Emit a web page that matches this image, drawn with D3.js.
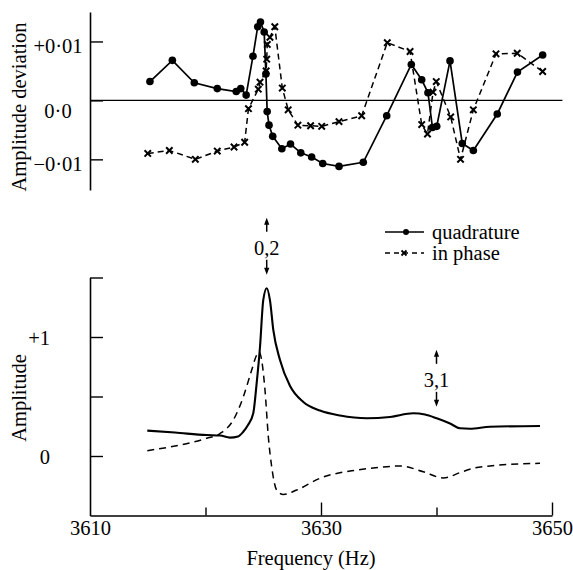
<!DOCTYPE html>
<html><head><meta charset="utf-8">
<script src="https://cdn.jsdelivr.net/npm/d3@7"></script>
<style>
body{margin:0;background:#fff;}
svg text{font-family:"Liberation Serif","Times New Roman",Tinos,"DejaVu Serif","Noto Serif",Times,serif !important;fill:#000;}
</style></head>
<body><svg id="c" width="573" height="570"></svg>
<script>
// ---- data ----
const qFreq = [3615.19,3617.13,3619.03,3621.02,3622.66,3623.05,3623.52,3624.11,3624.52,3624.76,3625.08,3625.23,3625.34,3625.50,3625.82,3626.61,3627.36,3628.25,3629.19,3630.15,3631.56,3633.66,3635.69,3637.82,3638.72,3639.26,3639.65,3640.02,3641.17,3642.23,3643.19,3645.26,3647.01,3649.19];
const qDev  = [0.0032,0.0068,0.0030,0.0020,0.0015,0.0020,0.0009,0.0075,0.0125,0.0133,0.0116,0.0045,-0.0019,-0.0042,-0.0061,-0.0082,-0.0074,-0.0089,-0.0096,-0.0107,-0.0112,-0.0105,-0.0026,0.0061,0.0035,0.0013,-0.0046,-0.0044,0.0067,-0.0073,-0.0085,-0.0023,0.0048,0.0077];
const iFreq = [3615.00,3616.87,3619.12,3621.02,3622.47,3623.39,3623.72,3624.57,3624.72,3625.25,3625.30,3625.35,3625.58,3626.00,3626.65,3627.16,3628.00,3629.10,3630.06,3631.56,3633.52,3635.74,3637.71,3638.72,3639.22,3639.70,3639.98,3641.23,3642.08,3643.19,3645.15,3646.99,3649.19];
const iDev  = [-0.0090,-0.0085,-0.0100,-0.0086,-0.0079,-0.0071,-0.0014,0.0019,0.0031,0.0050,0.0070,0.0095,0.0107,0.0125,0.0021,-0.0016,-0.0042,-0.0043,-0.0044,-0.0036,-0.0026,0.0098,0.0083,-0.0041,-0.0057,0.0014,0.0032,-0.0028,-0.0100,-0.0016,0.0079,0.0080,0.0049];

const sFreq = [3614.96,3617.36,3620.10,3621.26,3622.12,3622.81,3623.27,3623.68,3624.14,3624.43,3624.72,3625.00,3625.30,3625.58,3625.87,3626.45,3627.32,3628.47,3629.91,3631.65,3633.96,3635.97,3637.99,3639.00,3640.02,3641.17,3642.03,3642.90,3644.63,3648.96];
const sAmp  = [0.213,0.197,0.176,0.172,0.154,0.164,0.204,0.26,0.361,0.613,0.918,1.31,1.41,1.31,1.06,0.807,0.588,0.454,0.382,0.340,0.317,0.328,0.359,0.349,0.317,0.273,0.233,0.229,0.246,0.252];
const dFreq = [3614.96,3617.36,3620.10,3621.26,3622.41,3623.27,3624.00,3624.43,3624.63,3624.86,3625.15,3625.44,3625.73,3626.16,3626.74,3627.90,3629.91,3633.09,3635.11,3636.84,3638.86,3640.59,3642.03,3643.19,3644.63,3648.96];
const dAmp  = [0.045,0.084,0.149,0.189,0.303,0.496,0.723,0.849,0.876,0.807,0.555,0.162,-0.090,-0.286,-0.324,-0.286,-0.187,-0.118,-0.095,-0.084,-0.132,-0.185,-0.140,-0.103,-0.084,-0.061];

const xTicks = [3610,3620,3630,3640,3650];
const xTickLabels = ["3610","","3630","","3650"];
const topTicks = [-0.01,0,0.01];
const topTickLabels = ["\u22120\u00b701","0\u00b70","+0\u00b701"];
const botTicks = [0,0.5,1,1.5];
const botTickLabels = ["0","","+1",""];
const annFreq = [3625.3,3640.0];
const annLabels = ["0,2","3,1"];
const annLevel = [1.75,0.64];
const legendLabels = ["quadrature","in phase"];

// ---- layout ----
const svg = d3.select("#c");
const x = d3.scaleLinear().domain([3610,3650]).range([90,552]);
const yT = d3.scaleLinear().domain([-0.0152,0.0150]).range([190,12]);
const yB = d3.scaleLinear().domain([-0.5,1.5]).range([515.5,277.5]);
const FS = 20.5;

// top axis
const gT = svg.append("g").attr("transform","translate(90,0)")
  .call(d3.axisLeft(yT).tickValues(topTicks).tickSizeInner(-13).tickSizeOuter(0)
    .tickFormat((d,i)=>topTickLabels[i]));
gT.attr("font-family",null).attr("font-size",null);
gT.select(".domain").attr("stroke-width",1.6);
gT.selectAll(".tick line").attr("stroke-width",1.4);
gT.selectAll(".tick text").attr("x",-32).attr("text-anchor","middle")
  .attr("dy",(d)=> d===0 ? "0.85em" : "0.55em")
  .style("font-size",FS+"px");

// zero line
svg.append("line").attr("x1",x(3610)).attr("x2",x(3650.9)).attr("y1",yT(0)).attr("y2",yT(0))
  .attr("stroke","#000").attr("stroke-width",1.3);

// top series
const lineT = d3.line().x(d=>x(d[0])).y(d=>yT(d[1]));
const qData = qFreq.map((f,i)=>[f,qDev[i]]);
const iData = iFreq.map((f,i)=>[f,iDev[i]]);
svg.append("path").datum(iData).attr("d",lineT).attr("fill","none").attr("stroke","#000")
  .attr("stroke-width",1.5).attr("stroke-dasharray","6,4");
svg.append("path").datum(qData).attr("d",lineT).attr("fill","none").attr("stroke","#000")
  .attr("stroke-width",1.7);
svg.selectAll(".qd").data(qData).join("circle").attr("cx",d=>x(d[0])).attr("cy",d=>yT(d[1]))
  .attr("r",3.8).attr("fill","#000");
function cross(g,cx,cy,s,w){
  g.append("path").attr("d",`M${cx-s},${cy-s}L${cx+s},${cy+s}M${cx-s},${cy+s}L${cx+s},${cy-s}`)
   .attr("stroke","#000").attr("stroke-width",w).attr("fill","none");
}
const gx = svg.append("g");
iData.forEach(d=>cross(gx,x(d[0]),yT(d[1]),3.2,2));

// y title top
svg.append("text").attr("transform",`translate(26,${(12+190)/2+6}) rotate(-90)`)
  .attr("text-anchor","middle").style("font-size",FS+"px").text("Amplitude deviation");

// bottom axes
const gB = svg.append("g").attr("transform","translate(90,0)")
  .call(d3.axisLeft(yB).tickValues(botTicks).tickSizeInner(-13).tickSizeOuter(0)
    .tickFormat((d,i)=>botTickLabels[i]));
gB.attr("font-family",null).attr("font-size",null);
gB.select(".domain").attr("stroke-width",1.6);
gB.selectAll(".tick line").attr("stroke-width",1.4);
gB.selectAll(".tick text").attr("x",-40).attr("text-anchor","end").attr("dy","0.38em")
  .style("font-size",FS+"px");

const gX = svg.append("g").attr("transform",`translate(0,${yB(-0.5)})`)
  .call(d3.axisBottom(x).tickValues(xTicks).tickSizeInner(-12).tickSizeOuter(0).tickPadding(20)
    .tickFormat((d,i)=>xTickLabels[i]));
gX.attr("font-family",null).attr("font-size",null);
gX.select(".domain").attr("stroke-width",1.6);
gX.selectAll(".tick line").attr("stroke-width",1.4)
  .attr("y2",(d)=> (d===3620||d===3640) ? -8 : (d===3610 ? 0 : -13));
gX.selectAll(".tick text").style("font-size",FS+"px")
  .attr("y",5).attr("dy","0.71em");

svg.append("text").attr("x",311).attr("y",565).attr("text-anchor","middle")
  .style("font-size",FS+"px").text("Frequency (Hz)");
svg.append("text").attr("transform",`translate(26,398) rotate(-90)`)
  .attr("text-anchor","middle").style("font-size",FS+"px").text("Amplitude");

// bottom curves
const lineB = d3.line().x(d=>x(d[0])).y(d=>yB(d[1])).curve(d3.curveMonotoneX);
svg.append("path").datum(dFreq.map((f,i)=>[f,dAmp[i]])).attr("d",lineB).attr("fill","none")
  .attr("stroke","#000").attr("stroke-width",1.5).attr("stroke-dasharray","7,5");
svg.append("path").datum(sFreq.map((f,i)=>[f,sAmp[i]])).attr("d",lineB).attr("fill","none")
  .attr("stroke","#000").attr("stroke-width",2.1);

// annotations
function arrow(xp,y1,y2){ // from y1 to y2, head at y2
  const dir = y2<y1 ? 1 : -1;
  svg.append("line").attr("x1",xp).attr("x2",xp).attr("y1",y1).attr("y2",y2+dir*5)
    .attr("stroke","#000").attr("stroke-width",1.5);
  svg.append("path").attr("d",`M${xp},${y2}L${xp-2.6},${y2+dir*7}L${xp+2.6},${y2+dir*7}Z`).attr("fill","#000");
}
annFreq.forEach((f,i)=>{
  const cx = x(f), cy = yB(annLevel[i]);
  svg.append("text").attr("x",cx).attr("y",cy).attr("dy","0.35em").attr("text-anchor","middle")
    .style("font-size",FS+"px").text(annLabels[i]);
  arrow(cx, cy-16, cy-30);
  arrow(cx, cy+12, cy+27);
});

// legend
const lg = svg.append("g");
lg.append("line").attr("x1",385).attr("x2",424).attr("y1",232).attr("y2",232).attr("stroke","#000").attr("stroke-width",1.5);
lg.append("circle").attr("cx",406).attr("cy",232).attr("r",3).attr("fill","#000");
lg.append("line").attr("x1",385).attr("x2",424).attr("y1",253).attr("y2",253).attr("stroke","#000").attr("stroke-width",1.5).attr("stroke-dasharray","5,4");
cross(lg,404,253,2.5,1.8);
legendLabels.forEach((t,i)=>{
  lg.append("text").attr("x",432).attr("y",232+21*i).attr("dy","0.32em").style("font-size",FS+"px").text(t);
});
</script></body></html>
